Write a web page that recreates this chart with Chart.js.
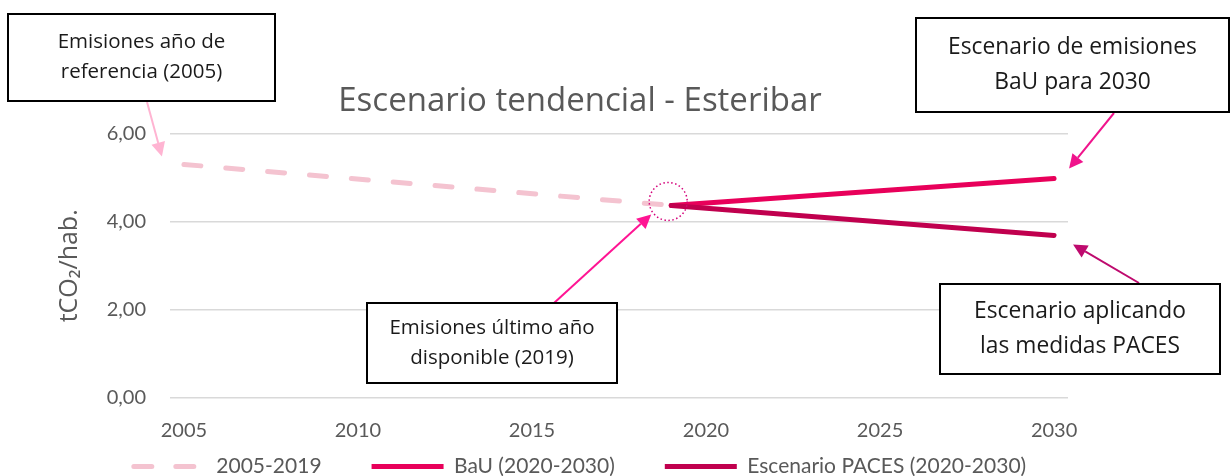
<!DOCTYPE html>
<html>
<head>
<meta charset="utf-8">
<script src="https://cdn.jsdelivr.net/npm/chart.js@4"></script>
<style>
  body { margin: 0; background: #fff; }
  #wrap { width: 1231px; height: 476px; overflow: hidden; }
</style>
</head>
<body>
<div id="wrap"><canvas id="chart" width="1231" height="524"></canvas></div>
<script>
// values (tCO2/hab.)
const histYears = [2005, 2019];
const histValues = [5.30, 4.37];
const scenYears = [2019, 2030];
const bauValues = [4.37, 4.98];
const pacesValues = [4.37, 3.69];

const seriesNames = ['2005-2019', 'BaU (2020-2030)', 'Escenario PACES (2020-2030)'];
const xTickYears = [2005, 2010, 2015, 2020, 2025, 2030];
const yTickValues = [0, 2, 4, 6];
const yTickLabels = ['0,00', '2,00', '4,00', '6,00'];

const noteTexts = [
    ['Emisiones año de', 'referencia (2005)'],
    ['Escenario de emisiones', 'BaU para 2030'],
    ['Escenario aplicando', 'las medidas PACES'],
    ['Emisiones último año', 'disponible (2019)']
];

// callout layout: box [x, y, w, h], arrow start, arrow tip = data point + offset
const notes = [
    { box: [8, 14, 267, 87], size: 20.5, gap: 30, from: [147, 102], at: [histYears[0], histValues[0]], off: [-22, -8], color: '#FFB4D2' },
    { box: [916, 18, 313, 94], size: 22.8, gap: 35, from: [1114, 113], at: [scenYears[1], bauValues[1]], off: [15, -10], color: '#F0148C' },
    { box: [940, 284, 280, 90], size: 22.8, gap: 35, from: [1139, 283], at: [scenYears[1], pacesValues[1]], off: [19, 9], color: '#BE0A6E' },
    { box: [367, 303, 250, 80], size: 20.5, gap: 30, from: [554, 303], at: [histYears[1], histValues[1]], off: [-20, 9], color: '#FF1493' }
];

function toPoints(xs, ys) {
    return xs.map((x, i) => ({ x: x, y: ys[i] }));
}

function drawArrow(ctx, x0, y0, x1, y1, color) {
    const ang = Math.atan2(y1 - y0, x1 - x0);
    const len = 14, half = 7;
    const bx = x1 - Math.cos(ang) * len, by = y1 - Math.sin(ang) * len;
    ctx.strokeStyle = color;
    ctx.fillStyle = color;
    ctx.lineWidth = 2;
    ctx.beginPath();
    ctx.moveTo(x0, y0);
    ctx.lineTo(bx, by);
    ctx.stroke();
    ctx.beginPath();
    ctx.moveTo(x1, y1);
    ctx.lineTo(bx + Math.sin(ang) * half, by - Math.cos(ang) * half);
    ctx.lineTo(bx - Math.sin(ang) * half, by + Math.cos(ang) * half);
    ctx.closePath();
    ctx.fill();
}

const LEGEND_LIFT = 37; // legend sits tight under the year labels, as in the original

const callouts = {
    id: 'callouts',
    afterLayout(chart) {
        chart.legend.top -= LEGEND_LIFT;
        chart.legend.bottom -= LEGEND_LIFT;
    },
    afterDraw(chart) {
        const { ctx, scales: { x, y } } = chart;
        ctx.save();

        // dotted ring round the last measured year
        ctx.setLineDash([1.5, 2.5]);
        ctx.lineWidth = 1.5;
        ctx.strokeStyle = '#D4007A';
        ctx.beginPath();
        ctx.arc(x.getPixelForValue(histYears[1]) - 3, y.getPixelForValue(histValues[1]) - 4, 19, 0, Math.PI * 2);
        ctx.stroke();
        ctx.setLineDash([]);

        notes.forEach(n => {
            const tx = x.getPixelForValue(n.at[0]) + n.off[0];
            const ty = y.getPixelForValue(n.at[1]) + n.off[1];
            drawArrow(ctx, n.from[0], n.from[1], tx, ty, n.color);
        });

        notes.forEach((n, i) => {
            const [bx, by, bw, bh] = n.box;
            ctx.fillStyle = '#fff';
            ctx.fillRect(bx, by, bw, bh);
            ctx.strokeStyle = '#000';
            ctx.lineWidth = 2;
            ctx.strokeRect(bx, by, bw, bh);
            ctx.fillStyle = '#1a1a1a';
            ctx.font = n.size + 'px "Open Sans"';
            ctx.textAlign = 'center';
            ctx.textBaseline = 'middle';
            const lines = noteTexts[i];
            const cy = by + bh / 2 - n.gap * (lines.length - 1) / 2;
            lines.forEach((t, k) => ctx.fillText(t, bx + bw / 2, cy + k * n.gap));
        });
        ctx.restore();
    }
};

const tickFont = { family: 'Lato', size: 20 };

new Chart(document.getElementById('chart'), {
    type: 'line',
    data: {
        datasets: [
            { label: seriesNames[0], data: toPoints(histYears, histValues), borderColor: '#F4C3D0', borderWidth: 5, borderDash: [17, 25], borderCapStyle: 'round', pointRadius: 0, order: 3 },
            { label: seriesNames[1], data: toPoints(scenYears, bauValues), borderColor: '#E8005A', borderWidth: 5, borderCapStyle: 'round', pointRadius: 0, order: 2 },
            { label: seriesNames[2], data: toPoints(scenYears, pacesValues), borderColor: '#C0004E', borderWidth: 5, borderCapStyle: 'round', pointRadius: 0, order: 1 }
        ]
    },
    options: {
        responsive: false,
        animation: false,
        layout: { padding: { left: 0, right: 71, top: 0, bottom: 0 } },
        plugins: {
            title: {
                display: true,
                text: 'Escenario tendencial - Esteribar',
                color: '#595959',
                font: { family: 'Open Sans', size: 33, weight: 'normal' },
                padding: { top: 82, bottom: 12 }
            },
            legend: {
                position: 'bottom',
                reverse: true,
                labels: {
                    boxWidth: 72,
                    boxHeight: 0,
                    padding: 50,
                    color: '#595959',
                    font: { family: 'Lato', size: 21 }
                }
            },
            tooltip: { enabled: false }
        },
        scales: {
            x: {
                type: 'linear',
                min: 2004.6,
                max: 2030.4,
                afterBuildTicks: s => { s.ticks = xTickYears.map(v => ({ value: v })); },
                afterFit: s => { s.height = 45; },
                ticks: { color: '#595959', font: tickFont, padding: 13, maxRotation: 0, callback: v => String(v) },
                grid: { display: false },
                border: { display: false }
            },
            y: {
                min: 0,
                max: 6,
                afterBuildTicks: s => { s.ticks = yTickValues.map(v => ({ value: v })); },
                afterFit: s => { s.width = 170; },
                ticks: { color: '#595959', font: tickFont, padding: 24, callback: v => yTickLabels[yTickValues.indexOf(v)] },
                grid: { color: '#d9d9d9', lineWidth: 1.5, drawTicks: false },
                border: { display: false },
                title: {
                    display: true,
                    text: 'tCO₂/hab.',
                    color: '#595959',
                    font: { family: 'Open Sans', size: 25 },
                    padding: { top: 55, bottom: 0 }
                }
            },
            // empty right axis, only keeps the plot narrower than the title/legend band
            yRight: {
                position: 'right',
                min: 0,
                max: 6,
                afterFit: s => { s.width = 92; },
                ticks: { display: false },
                grid: { display: false },
                border: { display: false }
            }
        }
    },
    plugins: [callouts]
});
</script>
</body>
</html>
